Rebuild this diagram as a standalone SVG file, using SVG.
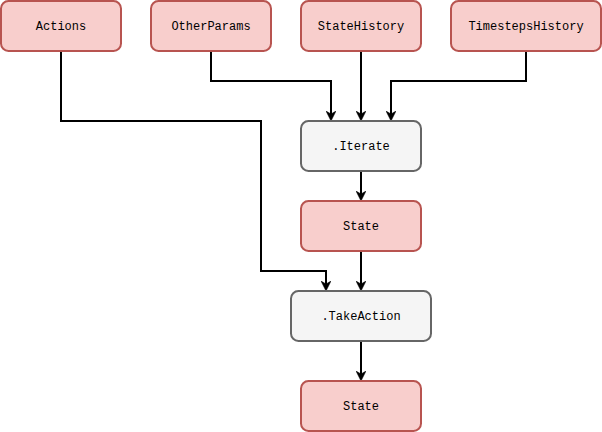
<svg xmlns="http://www.w3.org/2000/svg" width="602" height="432" viewBox="0 0 602 432">
<style>
.red{fill:#f8cecc;stroke:#b85450;stroke-width:2}
.grey{fill:#f5f5f5;stroke:#666666;stroke-width:2}
text{font-family:"Liberation Mono","DejaVu Sans Mono",monospace;font-size:12px;fill:#000;text-anchor:middle;dominant-baseline:central}
.edge{fill:none;stroke:#000;stroke-width:2;marker-end:url(#arr)}
</style>
<defs>
<marker id="arr" markerUnits="userSpaceOnUse" viewBox="0 0 10 10" refX="3" refY="5" markerWidth="10" markerHeight="10.5" orient="auto">
<path d="M0,0 L10,5 L0,10 L3,5 z" fill="#000" stroke="#000" stroke-width="0.5"/>
</marker>
</defs>
<g id="edges">
<path class="edge" d="M61,51 V121 H261 V271 H326 V284"/>
<path class="edge" d="M211,51 V81 H331 V114"/>
<path class="edge" d="M361,51 V114"/>
<path class="edge" d="M526,51 V81 H391 V114"/>
<path class="edge" d="M361,171 V194"/>
<path class="edge" d="M361,251 V284"/>
<path class="edge" d="M361,341 V374"/>
</g>
<g id="actions"><rect class="red" x="1" y="1" width="120" height="50" rx="7.5"/><text x="61" y="27">Actions</text></g>
<g id="otherparams"><rect class="red" x="151" y="1" width="120" height="50" rx="7.5"/><text x="211" y="27">OtherParams</text></g>
<g id="statehistory"><rect class="red" x="301" y="1" width="120" height="50" rx="7.5"/><text x="361" y="27">StateHistory</text></g>
<g id="timestepshistory"><rect class="red" x="451" y="1" width="150" height="50" rx="7.5"/><text x="526" y="27">TimestepsHistory</text></g>
<g id="iterate"><rect class="grey" x="301" y="121" width="120" height="50" rx="7.5"/><text x="361" y="147">.Iterate</text></g>
<g id="state1"><rect class="red" x="301" y="201" width="120" height="50" rx="7.5"/><text x="361" y="227">State</text></g>
<g id="takeaction"><rect class="grey" x="291" y="291" width="140" height="50" rx="7.5"/><text x="361" y="317">.TakeAction</text></g>
<g id="state2"><rect class="red" x="301" y="381" width="120" height="50" rx="7.5"/><text x="361" y="407">State</text></g>
</svg>
